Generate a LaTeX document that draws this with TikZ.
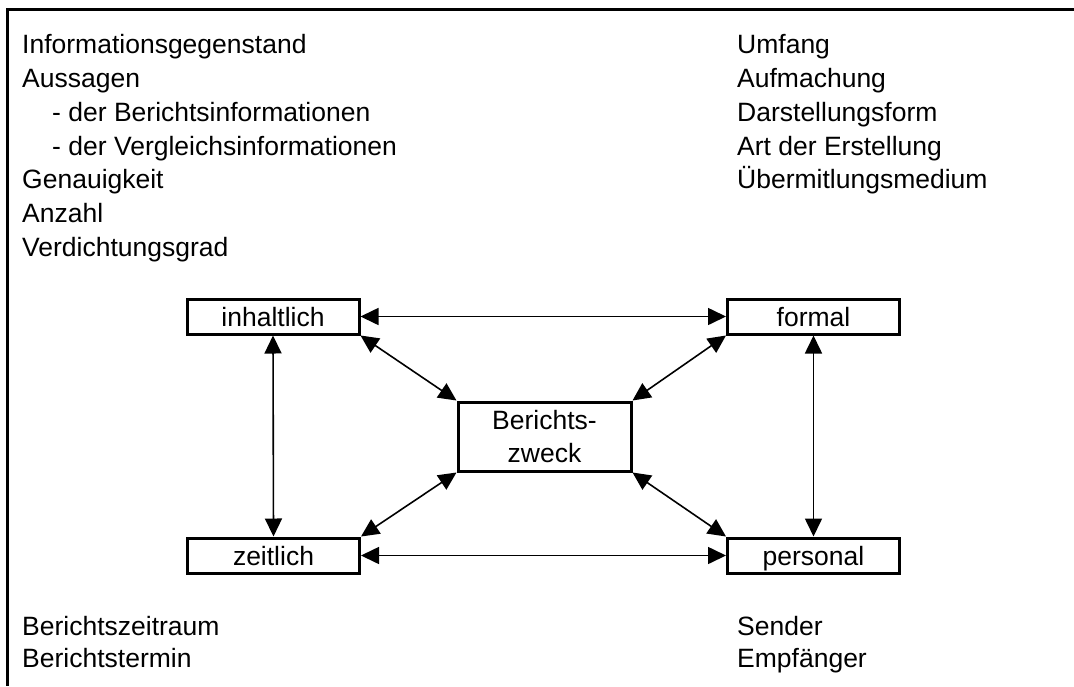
\documentclass[tikz,border=0pt]{standalone}
\usepackage{fontspec}
\setmainfont{Liberation Sans}
\usetikzlibrary{arrows.meta}
\begin{document}
\begin{tikzpicture}[x=1pt,y=-1pt,
  every node/.style={font=\fontsize{26.5pt}{33.6pt}\selectfont, inner sep=0pt},
  txt/.style={anchor=base west},
  dimbox/.style={draw, line width=3pt, minimum width=172pt, minimum height=35pt,
    text height=19pt, text depth=0pt},
  goalbox/.style={draw, line width=3pt, minimum width=173pt, minimum height=69pt, align=center},
  link/.style={line width=1.6pt, {Triangle[length=18pt,width=17pt]}-{Triangle[length=18pt,width=17pt]}}
]
\useasboundingbox (0,0) rectangle (1074,686);

% frame: top and left edges only
\draw[line width=3pt] (1074,9) -- (7,9) -- (7,686);

% content-related attributes
\node[txt] (l1) at (22,53.3)  {Informationsgegenstand};
\node[txt] (l2) at (22,87.2)  {Aussagen};
\node[txt] (l3) at (52,121.1) {- der Berichtsinformationen};
\node[txt] (l4) at (52,155)   {- der Vergleichsinformationen};
\node[txt] (l5) at (22,188.9) {Genauigkeit};
\node[txt] (l6) at (22,222.8) {Anzahl};
\node[txt] (l7) at (22,256.7) {Verdichtungsgrad};

% formal attributes
\node[txt] (r1) at (737,53.3)  {Umfang};
\node[txt] (r2) at (737,87.2)  {Aufmachung};
\node[txt] (r3) at (737,121.1) {Darstellungsform};
\node[txt] (r4) at (737,155)   {Art der Erstellung};
\node[txt] (r5) at (737,188.9) {Übermitlungsmedium};

% time-related attributes
\node[txt] (b1) at (22,635) {Berichtszeitraum};
\node[txt] (b2) at (22,667) {Berichtstermin};

% personal attributes
\node[txt] (s1) at (737,635) {Sender};
\node[txt] (s2) at (737,667) {Empfänger};

% dimension boxes
\node[dimbox] (inh) at (273,316.5)   {inhaltlich};
\node[dimbox] (form) at (813.5,316.5) {formal};
\node[dimbox] (zeit) at (273.5,555.5) {zeitlich};
\node[dimbox] (pers) at (813.5,555.5) {personal};
\node[goalbox] (zweck) at (544.5,436.5) {Berichts-\\zweck};

% relations
\draw[link] (inh.east) -- (form.west);
\draw[link] (zeit.east) -- (pers.west);
\draw[link] (inh.south) -- (zeit.north);
\draw[link] (form.south) -- (pers.north);
\draw[link] (inh.south east) -- (zweck.north west);
\draw[link] (form.south west) -- (zweck.north east);
\draw[link] (zeit.north east) -- (zweck.south west);
\draw[link] (pers.north west) -- (zweck.south east);
\end{tikzpicture}
\end{document}
